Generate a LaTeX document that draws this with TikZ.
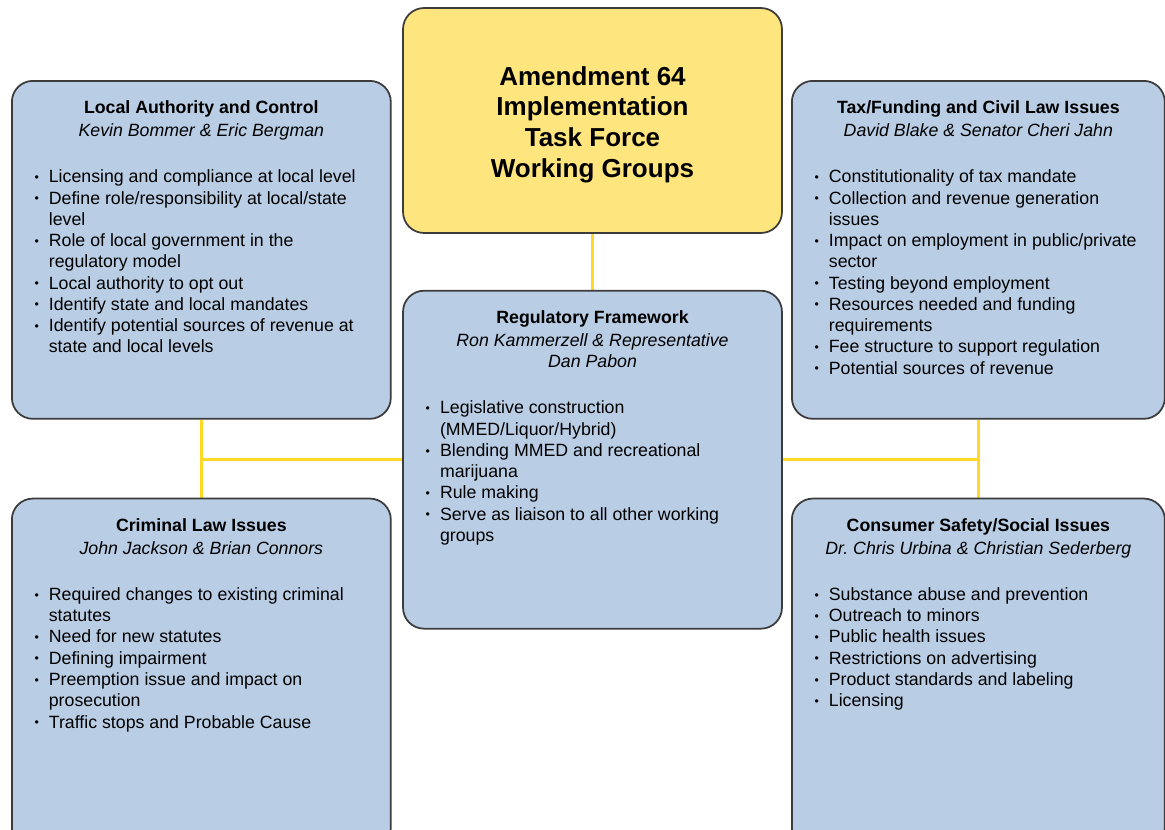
\documentclass[tikz,border=0pt]{standalone}
\usepackage{fontspec}
\setmainfont{Liberation Sans}
\usepackage{enumitem}
\usepackage{tikz}
\usetikzlibrary{positioning,backgrounds}
\definecolor{wgblue}{RGB}{185,205,229}
\definecolor{wgyellow}{RGB}{255,229,125}
\definecolor{wgline}{RGB}{255,216,40}
\definecolor{wgedge}{RGB}{60,60,60}
\setlist[itemize]{label=\raisebox{0.15ex}{\scriptsize\textbullet},leftmargin=0.74cm,labelsep=0.2cm,
  labelwidth=0.3cm,align=right,itemsep=0pt,parsep=0pt,topsep=0pt,partopsep=0pt}
% width, height, title, members, items
\newcommand{\wgbox}[5]{\begin{minipage}[t][#2][t]{#1}
\vspace*{0.4cm}
{\centering\textbf{#3}\\[1pt]\textit{#4}\par}
\vspace{\dimexpr\baselineskip+2pt\relax}
\raggedright
\begin{itemize}#5\end{itemize}
\end{minipage}}

\begin{document}
\begin{tikzpicture}[x=0.02cm,y=-0.02cm,
  group/.style={draw=wgedge,line width=1pt,rounded corners=0.42cm,fill=wgblue,inner sep=0pt,
    font=\fontsize{10.1}{12.1}\selectfont},
  link/.style={draw=wgline,line width=1.6pt}]
\useasboundingbox (0,0) rectangle (1165,829);

\node[draw=wgedge,line width=1pt,rounded corners=0.42cm,fill=wgyellow,minimum width=7.58cm,
  minimum height=4.5cm,align=center,font=\fontsize{14.8}{17.6}\selectfont\bfseries] (top) at (592.5,120.5)
  {\\[-2pt]Amendment 64\\Implementation\\Task Force\\Working Groups};

\node[group,below=1.12cm of top] (reg) {\wgbox{7.58cm}{6.76cm}{Regulatory Framework}
  {Ron Kammerzell \& Representative\\Dan Pabon}{%
  \item Legislative construction\newline (MMED/Liquor/Hybrid)
  \item Blending MMED and recreational\newline marijuana
  \item Rule making
  \item Serve as liaison to all other working\newline groups}};

\node[group,anchor=north west] (local) at (11,80) {\wgbox{7.58cm}{6.76cm}{Local Authority and Control}
  {Kevin Bommer \& Eric Bergman}{%
  \item Licensing and compliance at local level
  \item Define role/responsibility at local/state\newline level
  \item Role of local government in the\newline regulatory model
  \item Local authority to opt out
  \item Identify state and local mandates
  \item Identify potential sources of revenue at\newline state and local levels}};

\node[group,anchor=north west] (tax) at (791,80) {\wgbox{7.46cm}{6.76cm}{Tax/Funding and Civil Law Issues}
  {David Blake \& Senator Cheri Jahn}{%
  \item Constitutionality of tax mandate
  \item Collection and revenue generation\newline issues
  \item Impact on employment in public/private\newline sector
  \item Testing beyond employment
  \item Resources needed and funding\newline requirements
  \item Fee structure to support regulation
  \item Potential sources of revenue}};

\node[group,below=1.56cm of local] (crim) {\wgbox{7.58cm}{7cm}{Criminal Law Issues}
  {John Jackson \& Brian Connors}{%
  \item Required changes to existing criminal\newline statutes
  \item Need for new statutes
  \item Defining impairment
  \item Preemption issue and impact on\newline prosecution
  \item Traffic stops and Probable Cause}};

\node[group,below=1.56cm of tax] (cons) {\wgbox{7.46cm}{7cm}{Consumer Safety/Social Issues}
  {Dr.\ Chris Urbina \& Christian Sederberg}{%
  \item Substance abuse and prevention
  \item Outreach to minors
  \item Public health issues
  \item Restrictions on advertising
  \item Product standards and labeling
  \item Licensing}};

% yellow connectors behind the boxes
\coordinate (lmid) at (local |- reg);
\coordinate (rmid) at (tax |- reg);
\begin{scope}[on background layer]
\draw[link] (top) -- (reg);
\draw[link] (local) -- (crim);
\draw[link] (tax) -- (cons);
\draw[link] (lmid) -- (reg);
\draw[link] (reg) -- (rmid);
\end{scope}
\end{tikzpicture}
\end{document}
